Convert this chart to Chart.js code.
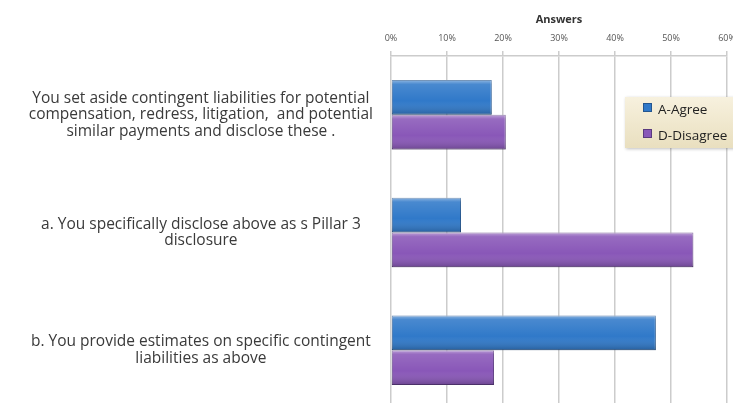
<!DOCTYPE html>
<html>
<head>
<meta charset="utf-8">
<script src="https://cdn.jsdelivr.net/npm/chart.js@4"></script>
<style>
  html, body { margin: 0; padding: 0; background: #fff; overflow: hidden; }
  #wrap { position: relative; width: 733px; height: 403px; overflow: hidden; }
  #legend {
    position: absolute; left: 625px; top: 97px; width: 115px; height: 51px;
    background: linear-gradient(to bottom, #f7f1de, #e9dfbf);
    box-shadow: 1px 1px 3px rgba(0,0,0,0.25);
    font-family: "Open Sans", sans-serif; font-size: 13.5px; color: #222;
  }
  #legend .item { position: absolute; left: 18px; }
  #legend .sw { display: inline-block; width: 7px; height: 7px; margin-right: 6px; vertical-align: 2px; }
</style>
</head>
<body>
<div id="wrap">
  <canvas id="answersChart" width="745" height="409"></canvas>
  <div id="legend"></div>
</div>
<script>
const questions = [
    ['You set aside contingent liabilities for potential', 'compensation, redress, litigation,  and potential', 'similar payments and disclose these .'],
    ['a. You specifically disclose above as s Pillar 3', 'disclosure'],
    ['b. You provide estimates on specific contingent', 'liabilities as above']
];
const agree = [18, 12.5, 47.3];
const disagree = [20.5, 54, 18.4];
const seriesNames = ['A-Agree', 'D-Disagree'];
const tickValues = [0, 10, 20, 30, 40, 50, 60];

const fills = ['#3079c9', '#8957b8'];
const edges = ['#24568f', '#5a3a7f'];

// legend box (html)
const legend = document.getElementById('legend');
seriesNames.forEach((name, i) => {
    const el = document.createElement('div');
    el.className = 'item';
    el.style.top = (i === 0 ? 3 : 29) + 'px';
    el.innerHTML = '<span class="sw" style="background:' + fills[i] + ';border:1px solid ' + edges[i] + '"></span>' + name;
    legend.appendChild(el);
});

// light top / dark bottom shading on every bar
const shade = {
    id: 'shade',
    afterDatasetsDraw(chart) {
        const ctx = chart.ctx;
        chart.data.datasets.forEach((ds, di) => {
            chart.getDatasetMeta(di).data.forEach(bar => {
                const top = bar.y - bar.height / 2;
                const g = ctx.createLinearGradient(0, top, 0, top + bar.height);
                g.addColorStop(0, 'rgba(255,255,255,0.45)');
                g.addColorStop(0.12, 'rgba(255,255,255,0.12)');
                g.addColorStop(0.6, 'rgba(255,255,255,0)');
                g.addColorStop(1, 'rgba(0,0,0,0.22)');
                ctx.save();
                ctx.fillStyle = g;
                ctx.fillRect(bar.base, top, bar.x - bar.base, bar.height);
                ctx.restore();
            });
        });
    }
};

new Chart(document.getElementById('answersChart'), {
    type: 'bar',
    data: {
        labels: questions,
        datasets: [
            { label: seriesNames[0], data: agree, backgroundColor: fills[0], borderColor: edges[0], borderWidth: 1, borderSkipped: false },
            { label: seriesNames[1], data: disagree, backgroundColor: fills[1], borderColor: edges[1], borderWidth: 1, borderSkipped: false }
        ]
    },
    options: {
        indexAxis: 'y',
        responsive: false,
        animation: false,
        layout: { padding: { top: 13, right: 18, left: 0, bottom: 0 } },
        datasets: { bar: { categoryPercentage: 0.59, barPercentage: 1 } },
        plugins: { legend: { display: false }, tooltip: { enabled: false } },
        scales: {
            x: {
                position: 'top',
                min: 0,
                max: 60,
                afterBuildTicks: axis => { axis.ticks = tickValues.map(v => ({ value: v })); },
                title: { display: true, text: 'Answers', color: '#333', font: { family: 'Open Sans', size: 11, weight: 'bold' }, padding: { top: 0, bottom: 0 } },
                ticks: { color: '#555', font: { family: 'Open Sans', size: 9 }, padding: 7, callback: v => v + '%' },
                grid: { color: '#cccccc', lineWidth: 1.5, tickLength: 5 },
                border: { color: '#cccccc', width: 1.5 }
            },
            y: {
                afterFit: axis => { axis.width = 391; axis.paddingTop = 0; axis.paddingBottom = 0; },
                grid: { display: false, drawTicks: false },
                border: { display: false },
                ticks: { color: '#3a3a3a', crossAlign: 'center', padding: 18, font: { family: 'Open Sans', size: 15.5, lineHeight: 1.08 } }
            }
        }
    },
    plugins: [shade]
});
</script>
</body>
</html>
